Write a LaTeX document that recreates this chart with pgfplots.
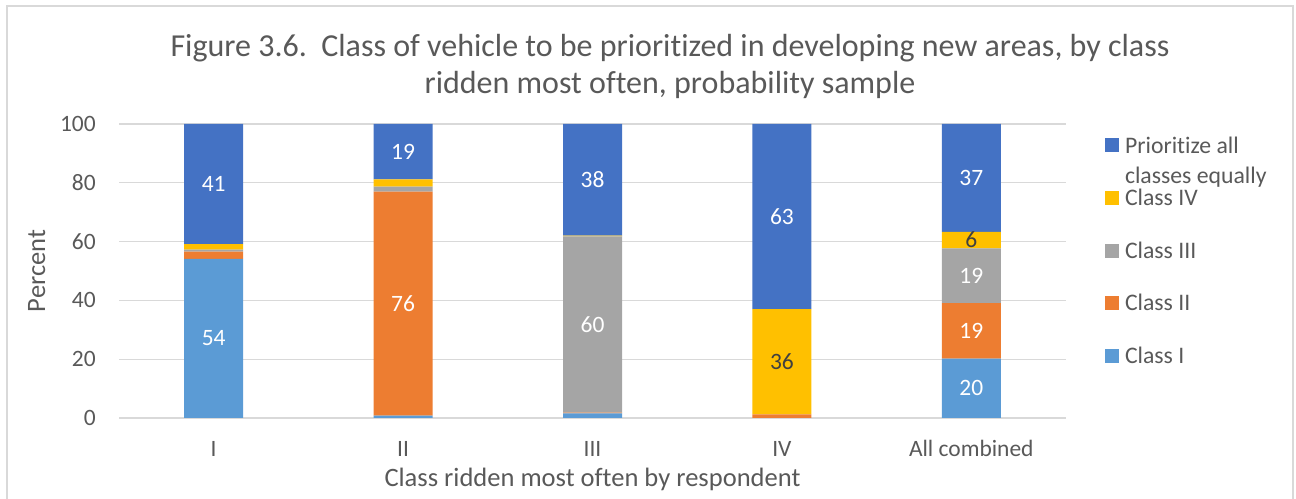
\documentclass[border=0pt]{standalone}
\usepackage{fontspec}
\setmainfont{Carlito}[Ligatures=NoCommon]
\usepackage{pgfplots}
\pgfplotsset{compat=1.18}
\definecolor{cI}{HTML}{5B9BD5}
\definecolor{cII}{HTML}{ED7D31}
\definecolor{cIII}{HTML}{A5A5A5}
\definecolor{cIV}{HTML}{FFC000}
\definecolor{cAll}{HTML}{4472C4}
\definecolor{textgray}{HTML}{595959}
\definecolor{gridgray}{HTML}{D9D9D9}
\definecolor{darklabel}{HTML}{404040}
\pgfkeys{/pgf/number format/assume math mode=true}
\begin{document}
\begin{tikzpicture}
\useasboundingbox (0,0) rectangle (972pt,374.25pt);
\draw[draw=gridgray, line width=1.5pt] (5.6pt,-5pt) -- (5.6pt,370.1pt) -- (970.1pt,370.1pt) -- (970.1pt,-5pt);
\node[anchor=base, text=textgray, font=\fontsize{24}{28}\selectfont, inner sep=0pt] at (502.5pt,331.9pt) {Figure 3.6.\ \ Class of vehicle to be prioritized in developing new areas, by class};
\node[anchor=base, text=textgray, font=\fontsize{24}{28}\selectfont, inner sep=0pt] at (502.5pt,304.1pt) {ridden most often, probability sample};
\begin{axis}[
  at={(89.25pt,60.75pt)}, anchor=south west,
  scale only axis, width=710.25pt, height=220.5pt,
  ybar stacked, bar width=44.25pt,
  xmin=-0.5, xmax=4.5, ymin=0, ymax=100,
  xtick={0,1,2,3,4}, xticklabels={I,II,III,IV,All combined},
  ytick={0,20,40,60,80,100},
  ymajorgrids, grid style={draw=gridgray, line width=1pt},
  axis line style={draw=none}, major tick length=0pt, tick style={draw=none},
  tick label style={font=\fontsize{17.6}{21}\selectfont, text=textgray},
  xticklabel style={anchor=base, yshift=-28.9pt},
  yticklabel style={anchor=east, inner sep=0pt, xshift=-17.25pt},
  xlabel={Class ridden most often by respondent},
  ylabel={Percent},
  label style={font=\fontsize{19.9}{24}\selectfont, text=textgray},
  xlabel style={at={(axis description cs:0.5,-0.2347)}, anchor=base},
  ylabel style={at={(axis description cs:-0.0781,0.5)}, anchor=base},
  visualization depends on={rawy \as \rawy},
  nodes near coords={\ifdim\rawy pt<5pt\else\pgfmathprintnumber[fixed,precision=0]{\rawy}\fi},
  every node near coord/.append style={anchor=center, text=white, font=\fontsize{17.6}{21}\selectfont},
  reverse legend,
  every axis plot post/.append style={legend image code/.code={\fill[##1] (0pt,0.45pt) rectangle (10.5pt,10.95pt);}},
  legend style={at={(1.0412,0.960)}, anchor=north west, draw=none, fill=none, inner sep=0pt, outer sep=0pt,
    row sep=22.4pt, column sep=4.5pt, font=\fontsize{17.8}{22.5}\selectfont,
    nodes={inner sep=0pt, text height=13pt, text depth=4pt, text=textgray},
    cells={anchor=base west}},
]
\addplot[fill=cI, draw=none] coordinates {(0,54.1) (1,0.8) (2,1.6) (3,0) (4,20.2)};
\addlegendentry{Class I}
\addplot[fill=cII, draw=none] coordinates {(0,2.5) (1,76.2) (2,0.2) (3,1.2) (4,18.9)};
\addlegendentry{Class II}
\addplot[fill=cIII, draw=none] coordinates {(0,0.7) (1,1.7) (2,60.0) (3,0) (4,18.6)};
\addlegendentry{Class III}
\addplot[fill=cIV, draw=none, every node near coord/.append style={text=darklabel}] coordinates {(0,1.8) (1,2.5) (2,0.2) (3,35.8) (4,5.6)};
\addlegendentry{Class IV}
\addplot[fill=cAll, draw=none] coordinates {(0,40.9) (1,18.8) (2,38.0) (3,63.0) (4,36.7)};
\addlegendentry{\smash{\begin{tabular}[t]{@{}l@{}}Prioritize all\\classes equally\end{tabular}}}
\end{axis}
\end{tikzpicture}
\end{document}
